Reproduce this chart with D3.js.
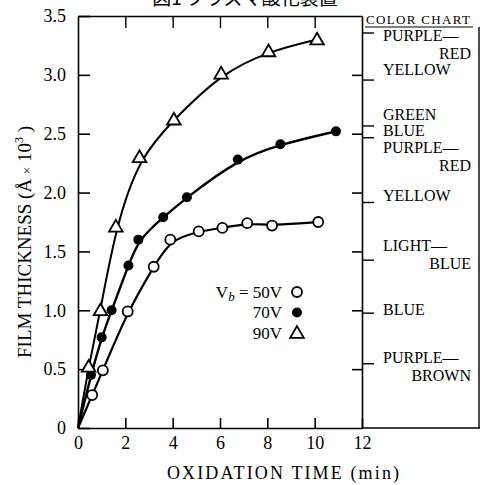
<!DOCTYPE html>
<html>
<head>
<meta charset="utf-8">
<script src="https://cdn.jsdelivr.net/npm/d3@7"></script>
<style>
  body { margin: 0; background: #fff; }
</style>
</head>
<body>
<div id="chart"></div>
<script>
// Oxidation time (min) and film thickness (x10^3 A) for each bias voltage
const time50 = [0.6, 1.05, 2.1, 3.2, 3.9, 5.1, 6.1, 7.15, 8.2, 10.15];
const film50 = [0.28, 0.49, 0.99, 1.37, 1.6, 1.67, 1.7, 1.74, 1.72, 1.75];
const time70 = [0.55, 1.0, 1.42, 2.13, 2.55, 3.6, 4.6, 6.75, 8.55, 10.9];
const film70 = [0.45, 0.77, 1.0, 1.38, 1.6, 1.79, 1.96, 2.28, 2.41, 2.52];
const time90 = [0.45, 0.95, 1.6, 2.6, 4.05, 6.05, 8.05, 10.1];
const film90 = [0.52, 1.0, 1.71, 2.3, 2.62, 3.01, 3.2, 3.3];

const xTicks = [0, 2, 4, 6, 8, 10, 12];
const yTicks = [0, 0.5, 1.0, 1.5, 2.0, 2.5, 3.0, 3.5];

// Color chart: thickness where each interference colour sits
const colorTicks = [3.36, 2.96, 2.57, 2.47, 1.92, 1.43, 0.98, 0.55];
const colorNames = [["PURPLE—", "RED"], ["YELLOW"], ["GREEN"], ["BLUE"], ["PURPLE—", "RED"],
                    ["YELLOW"], ["LIGHT—", "BLUE"], ["BLUE"], ["PURPLE—", "BROWN"]];
const colorNameAt = [3.29, 3.0, 2.62, 2.48, 2.34, 1.93, 1.5, 0.96, 0.55];

const legendLabels = ["50V", "70V", "90V"];

const SERIF = "'Liberation Serif', 'DejaVu Serif', 'Times New Roman', Times, serif";
const width = 483, height = 485;
const x = d3.scaleLinear().domain([0, 12]).range([78, 362]);
const y = d3.scaleLinear().domain([0, 3.5]).range([428, 16]);

const svg = d3.select("#chart").append("svg")
  .attr("width", width)
  .attr("height", height)
  .style("background", "#fff");

// Caption, cut off at the top of the page as in the scan
svg.append("text")
  .attr("x", 245)
  .attr("y", 5)
  .attr("text-anchor", "middle")
  .style("font-family", "'Noto Sans CJK JP'")
  .style("font-size", "19px")
  .text("図1 プラズマ酸化装置");

// Left axis, ticks pointing inward
svg.append("g")
  .attr("transform", `translate(${x(0)},0)`)
  .call(d3.axisLeft(y).tickValues(yTicks).tickSizeInner(-12).tickSizeOuter(0).tickPadding(12)
    .tickFormat((d) => d === 0 ? "0" : d.toFixed(1)))
  .call((g) => g.selectAll("text").style("font-size", "18px").style("font-family", SERIF).attr("fill", "#000"))
  .call((g) => g.selectAll("line,path").attr("stroke", "#000").attr("stroke-width", 1.6));

// Bottom axis
svg.append("g")
  .attr("transform", `translate(0,${y(0)})`)
  .call(d3.axisBottom(x).tickValues(xTicks).tickSizeInner(-10).tickSizeOuter(0).tickPadding(8))
  .call((g) => g.selectAll("text").style("font-size", "18px").style("font-family", SERIF).attr("fill", "#000"))
  .call((g) => g.selectAll("line,path").attr("stroke", "#000").attr("stroke-width", 1.6));

// Top frame with downward ticks
svg.append("g")
  .attr("transform", `translate(0,${y(3.5)})`)
  .call(d3.axisTop(x).tickValues(xTicks.slice(1, -1)).tickSizeInner(-12).tickSizeOuter(0).tickFormat(""))
  .call((g) => g.selectAll("line,path").attr("stroke", "#000").attr("stroke-width", 1.4));

// Right axis: inward thickness ticks
svg.append("g")
  .attr("transform", `translate(${x(12)},0)`)
  .call(d3.axisRight(y).tickValues(yTicks.slice(1, -1)).tickSizeInner(-10).tickSizeOuter(0).tickFormat(""))
  .call((g) => g.selectAll("line,path").attr("stroke", "#000").attr("stroke-width", 1.6));

// Right axis: outward colour chart ticks
svg.append("g")
  .attr("transform", `translate(${x(12)},0)`)
  .call(d3.axisRight(y).tickValues(colorTicks).tickSizeInner(12).tickSizeOuter(0).tickFormat(""))
  .call((g) => g.select("path").remove())
  .call((g) => g.selectAll("line").attr("stroke", "#000").attr("stroke-width", 1.4));

// Colour chart box
svg.append("line")
  .attr("x1", x(12)).attr("x2", 480)
  .attr("y1", y(0)).attr("y2", y(0))
  .attr("stroke", "#000").attr("stroke-width", 1.6);
svg.append("line")
  .attr("x1", 479).attr("x2", 479)
  .attr("y1", 27).attr("y2", y(0))
  .attr("stroke", "#000").attr("stroke-width", 1.4);
svg.append("line")
  .attr("x1", 365).attr("x2", 473)
  .attr("y1", 27).attr("y2", 27)
  .attr("stroke", "#000").attr("stroke-width", 1.2);
svg.append("text")
  .attr("x", 366)
  .attr("y", 24)
  .style("font-family", SERIF)
  .style("font-size", "13px")
  .attr("textLength", 104)
  .text("COLOR CHART");

const names = svg.selectAll(".color-name")
  .data(colorNames)
  .enter()
  .append("text")
  .attr("class", "color-name")
  .attr("y", (d, i) => y(colorNameAt[i]))
  .attr("dy", "0.35em")
  .style("font-family", SERIF)
  .style("font-size", "16px");

names.selectAll("tspan")
  .data((d) => d)
  .enter()
  .append("tspan")
  .attr("x", (d, i) => i === 0 ? 383 : 471)
  .attr("dy", (d, i) => i === 0 ? 0 : 18)
  .attr("text-anchor", (d, i) => i === 0 ? "start" : "end")
  .text((d) => d);

// Curves
const line = d3.line()
  .x((d) => x(d[0]))
  .y((d) => y(d[1]))
  .curve(d3.curveBasis);

const series = [
  { t: time50, f: film50, width: 2.2 },
  { t: time70, f: film70, width: 2.4 },
  { t: time90, f: film90, width: 2 },
];

series.forEach((s) => {
  const pts = [[0, 0]].concat(s.t.map((t, i) => [t, s.f[i]]));
  svg.append("path")
    .attr("d", line(pts))
    .attr("fill", "none")
    .attr("stroke", "#000")
    .attr("stroke-width", s.width);
});

const triangle = d3.symbol().type(d3.symbolTriangle).size(80);

function drawMarker(sel, kind) {
  if (kind === 0) {
    sel.append("circle").attr("r", 5)
      .attr("fill", "#fff").attr("stroke", "#000").attr("stroke-width", 1.8);
  } else if (kind === 1) {
    sel.append("circle").attr("r", 5).attr("fill", "#000");
  } else {
    sel.append("path").attr("d", triangle).attr("transform", "translate(0,1)")
      .attr("fill", "#fff").attr("stroke", "#000").attr("stroke-width", 1.8);
  }
}

series.forEach((s, k) => {
  svg.selectAll(null)
    .data(s.t)
    .enter()
    .append("g")
    .attr("transform", (d, i) => `translate(${x(d)},${y(s.f[i])})`)
    .each(function () { drawMarker(d3.select(this), k); });
});

// Legend
const legend = svg.append("g");
legendLabels.forEach((lab, i) => {
  const row = legend.append("g").attr("transform", `translate(282,${292 + i * 20.5})`);
  const t = row.append("text")
    .attr("text-anchor", "end")
    .attr("dy", "0.35em")
    .style("font-family", SERIF)
    .style("font-size", "17px");
  if (i === 0) {
    t.append("tspan").text("V");
    t.append("tspan").attr("dy", 3).style("font-size", "13px").style("font-style", "italic").text("b");
    t.append("tspan").attr("dy", -3).text(" = " + lab);
  } else {
    t.text(lab);
  }
  const m = row.append("g").attr("transform", "translate(15,0)");
  drawMarker(m, i);
});

// Axis titles
svg.append("text")
  .attr("x", 167)
  .attr("y", 479)
  .style("font-family", SERIF)
  .style("font-size", "18px")
  .attr("textLength", 232)
  .text("OXIDATION TIME (min)");

const yTitle = svg.append("text")
  .attr("transform", "translate(31,358) rotate(-90)")
  .style("font-family", SERIF)
  .style("font-size", "19px");
yTitle.append("tspan").text("FILM THICKNESS (Å ");
yTitle.append("tspan").style("font-size", "13px").text("×");
yTitle.append("tspan").text(" 10");
yTitle.append("tspan").attr("dy", -8).style("font-size", "12px").text("3");
yTitle.append("tspan").attr("dy", 8).text(" )");
</script>
</body>
</html>
